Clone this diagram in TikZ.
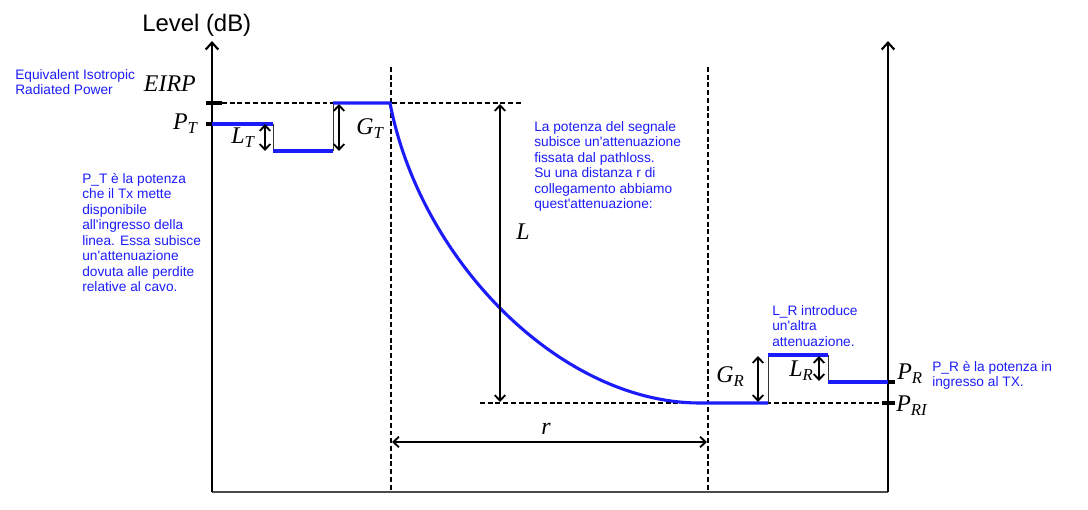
\documentclass[tikz,border=0pt]{standalone}
\usepackage{fontspec}
\setmainfont{Liberation Sans}
\newfontfamily\symfont{Liberation Serif}
\usetikzlibrary{arrows.meta}
\definecolor{noteblue}{RGB}{28,28,250}
\newcommand{\ap}{\textquotesingle}

\tikzset{
  axis/.style={line width=1.5pt,-{Straight Barb[length=5pt,width=9pt]}},
  baseln/.style={line width=0.9pt,black!70},
  level/.style={noteblue,line width=2.2pt},
  riser/.style={line width=0.6pt,black!80},
  guide/.style={line width=1pt,dash pattern=on 3.5pt off 2pt},
  tickmark/.style={line width=2.2pt},
  span/.style={line width=1.3pt,{Straight Barb[length=4pt,width=7.5pt]}-{Straight Barb[length=4pt,width=7.5pt]}},
  note/.style={text=noteblue,align=left,anchor=north west,inner sep=0pt,font=\fontsize{9.75}{11}\selectfont},
  lab/.style={inner sep=0pt,font=\fontsize{17}{17}\symfont\itshape},
}

\begin{document}
\begin{tikzpicture}[x=0.025cm,y=-0.025cm]
\useasboundingbox (0,0) rectangle (1088,510);

% axes
\coordinate (o) at (212,492);
\coordinate (ytop) at (212,41);
\coordinate (o2) at (888,492);
\coordinate (ytop2) at (888,41);
\draw[baseln] (o) -- (o2);
\draw[axis] (o) -- (ytop);
\draw[axis] (o2) -- (ytop2);
\node[anchor=base west,inner sep=0pt,font=\fontsize{17}{17}\selectfont] (ylab) at (142,32) {Level (dB)};

% guide lines
\draw[guide] (222,103) -- (523,103);
\draw[guide] (391,67) -- (391,492);
\draw[guide] (708,67) -- (708,492);
\draw[guide] (480,403) -- (883,403);
\draw[tickmark] (206,103) -- (222,103);
\draw[tickmark] (206,124) -- (222,124);
\draw[tickmark] (882,382) -- (895,382);
\draw[tickmark] (882,403) -- (895,403);

% level profile
\coordinate (pt) at (212,124);
\coordinate (lt1) at (273,124);
\coordinate (lt2) at (273,151);
\coordinate (gt1) at (333,151);
\coordinate (gt2) at (333,103);
\coordinate (eirp) at (390,103);
\coordinate (pri) at (700,403);
\coordinate (gr1) at (768,403);
\coordinate (gr2) at (768,355);
\coordinate (lr1) at (828,355);
\coordinate (lr2) at (828,382);
\coordinate (pr) at (888,382);
\draw[riser] (lt1) -- (lt2);
\draw[riser] (gt1) -- (gt2);
\draw[riser] (gr1) -- (gr2);
\draw[riser] (lr1) -- (lr2);
\draw[level] (pt) -- (lt1);
\draw[level] (lt2) -- (gt1);
\draw[level] (gt2) -- (eirp) .. controls (420,260) and (560,403) .. (pri) -- (gr1);
\draw[level] (gr2) -- (lr1);
\draw[level] (lr2) -- (pr);

% measures
\draw[span] (265,124) -- (265,151);
\draw[span] (339,104) -- (339,151);
\draw[span] (500,104) -- (500,402);
\draw[span] (392,442) -- (707,442);
\draw[span] (758,356) -- (758,402);
\draw[span] (819,356) -- (819,381);

% symbols
\node[lab,anchor=base east] (leirp) at (196,92) {EIRP};
\node[lab,anchor=base east] (lpt) at (198,130) {P\textsubscript{T}};
\node[lab,anchor=base west] (llt) at (231,144) {L\textsubscript{T}};
\node[lab,anchor=base west] (lgt) at (356,135) {G\textsubscript{T}};
\node[lab,anchor=base west] (ll) at (516,240) {L};
\node[lab,anchor=base] (lr) at (546,435) {r};
\node[lab,anchor=base west] (lgr) at (716,383) {G\textsubscript{R}};
\node[lab,anchor=base west] (llr) at (789,377) {L\textsubscript{R}};
\node[lab,anchor=base west] (lpr) at (897,380) {P\textsubscript{R}};
\node[lab,anchor=base west] (lpri) at (896,412) {P\textsubscript{RI}};

% notes
\node[note] (neirp) at (15,69) {Equivalent Isotropic\\Radiated Power};
\node[note] (npt) at (82,173) {P\_T è la potenza\\che il Tx mette\\disponibile\\all\ap ingresso della\\linea. Essa subisce\\un\ap attenuazione\\dovuta alle perdite\\relative al cavo.};
\node[note] (npath) at (534,121) {La potenza del segnale\\subisce un\ap attenuazione\\fissata dal pathloss.\\Su una distanza r di\\collegamento abbiamo\\quest\ap attenuazione:};
\node[note] (nlr) at (772,305) {L\_R introduce\\un\ap altra\\attenuazione.};
\node[note] (npr) at (932,361) {P\_R è la potenza in\\ingresso al TX.};
\end{tikzpicture}
\end{document}
